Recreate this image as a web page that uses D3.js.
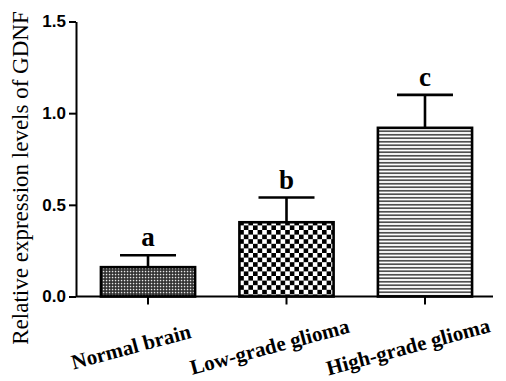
<!DOCTYPE html>
<html><head><meta charset="utf-8">
<script src="https://cdn.jsdelivr.net/npm/d3@7"></script>
<style>body{margin:0;background:#fff}svg{display:block}</style>
</head><body>
<svg id="c" width="506" height="381"></svg>
<script>
const categories = ["Normal brain", "Low-grade glioma", "High-grade glioma"];
const means = [0.16, 0.405, 0.92];
const errors = [0.065, 0.135, 0.18];
const groupLetters = ["a", "b", "c"];
const yTicks = [0, 0.5, 1.0, 1.5];
const yTitle = "Relative expression levels of GDNF";

const svg = d3.select("#c");
const defs = svg.append("defs");

// fine dotted pattern
const p1 = defs.append("pattern").attr("id","p1").attr("patternUnits","userSpaceOnUse").attr("width",3).attr("height",3);
p1.append("rect").attr("width",3).attr("height",3).attr("fill","#2a2a2a");
p1.append("rect").attr("x",0.8).attr("y",0.8).attr("width",1.5).attr("height",1.5).attr("fill","#e8e8e8");
// coarse checkerboard
const cs = 4.6;
const p2 = defs.append("pattern").attr("id","p2").attr("patternUnits","userSpaceOnUse").attr("width",cs*2).attr("height",cs*2);
p2.append("rect").attr("width",cs*2).attr("height",cs*2).attr("fill","#fff");
p2.append("rect").attr("width",cs).attr("height",cs).attr("fill","#000");
p2.append("rect").attr("x",cs).attr("y",cs).attr("width",cs).attr("height",cs).attr("fill","#000");
// horizontal lines
const p3 = defs.append("pattern").attr("id","p3").attr("patternUnits","userSpaceOnUse").attr("width",6).attr("height",3.5);
p3.append("rect").attr("width",6).attr("height",3.5).attr("fill","#fff");
p3.append("rect").attr("y",1).attr("width",6).attr("height",1.5).attr("fill","#333");
const fills = ["url(#p1)","url(#p2)","url(#p3)"];

const x = d3.scaleBand().domain(categories).range([76, 497]).paddingInner(0.32).paddingOuter(0.18);
const y = d3.scaleLinear().domain([0, 1.5]).range([296.5, 21.5]);

// bars
svg.append("g").selectAll("rect").data(categories).join("rect")
  .attr("x", d => x(d)).attr("width", x.bandwidth())
  .attr("y", (d,i) => y(means[i])).attr("height", (d,i) => y(0) - y(means[i]))
  .attr("fill", (d,i) => fills[i]).attr("stroke","#000").attr("stroke-width",2.6);

// error bars
const capHalf = 28;
const eg = svg.append("g").attr("stroke","#000").attr("stroke-width",2.6);
categories.forEach((d,i) => {
  const cx = x(d) + x.bandwidth()/2;
  eg.append("line").attr("x1",cx).attr("x2",cx).attr("y1",y(means[i])).attr("y2",y(means[i]+errors[i]));
  eg.append("line").attr("x1",cx-capHalf).attr("x2",cx+capHalf).attr("y1",y(means[i]+errors[i])).attr("y2",y(means[i]+errors[i]));
});

// letters
svg.append("g").selectAll("text").data(categories).join("text")
  .attr("x", d => x(d) + x.bandwidth()/2)
  .attr("y", (d,i) => y(means[i]+errors[i]) - 9)
  .attr("text-anchor","middle")
  .attr("font-family","'Liberation Serif', serif").attr("font-weight","bold").attr("font-size",27)
  .text((d,i) => groupLetters[i]);

// y axis
const ya = svg.append("g").attr("transform","translate(76,0)")
  .call(d3.axisLeft(y).tickValues(yTicks).tickFormat(d3.format(".1f")).tickSize(7).tickSizeOuter(0).tickPadding(3));
ya.selectAll("path,line").attr("stroke","#000").attr("stroke-width",2);
ya.selectAll("text").attr("font-family","'Liberation Sans', Arial, sans-serif").attr("font-weight","bold").attr("font-size",17).attr("fill","#000");

// x axis
const xa = svg.append("g").attr("transform",`translate(0,${y(0)})`)
  .call(d3.axisBottom(x).tickSize(8).tickSizeOuter(0));
xa.select(".domain").attr("d", `M${x.range()[0]},0H${x.range()[1]-4}`);
xa.selectAll("path,line").attr("stroke","#000").attr("stroke-width",2);
xa.selectAll("text")
  .attr("y",0).attr("dy","0.35em")
  .attr("transform","translate(-17,50) rotate(-15)")
  .attr("text-anchor","middle")
  .attr("font-family","'Liberation Serif', serif").attr("font-weight","bold").attr("font-size",21).attr("fill","#000");

// y title
svg.append("text")
  .attr("transform","translate(28,178) rotate(-90)")
  .attr("text-anchor","middle")
  .attr("font-family","'Liberation Serif', serif").attr("font-size",23).attr("fill","#000")
  .text(yTitle);
</script>
</body></html>
